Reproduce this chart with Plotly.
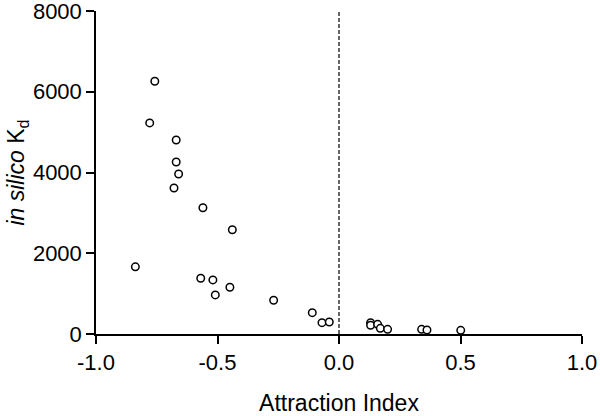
import plotly.graph_objects as go

attraction_index = [-0.758, -0.779, -0.670, -0.670, -0.660, -0.679, -0.560, -0.439,
                    -0.838, -0.569, -0.519, -0.449, -0.509, -0.269, -0.110, -0.070,
                    -0.040, 0.130, 0.130, 0.159, 0.170, 0.200, 0.340, 0.362, 0.501]
kd_in_silico = [6260, 5228, 4806, 4260, 3963, 3615, 3127, 2581,
                1663, 1382, 1340, 1158, 968, 836, 529, 281,
                298, 281, 216, 240, 141, 116, 116, 99, 91]

x_ticks = [-1.0, -0.5, 0.0, 0.5, 1.0]
x_tick_labels = ["-1.0", "-0.5", "0.0", "0.5", "1.0"]
y_ticks = [0, 2000, 4000, 6000, 8000]
y_tick_labels = ["0", "2000", "4000", "6000", "8000"]

fig = go.Figure()
fig.add_trace(go.Scatter(
    x=attraction_index, y=kd_in_silico, mode="markers",
    marker=dict(symbol="circle", size=7.5, color="white",
                line=dict(color="black", width=1.5)),
    showlegend=False, cliponaxis=False,
))
fig.add_vline(x=0, line=dict(color="black", width=1.2, dash="4px,2px"))

font_family = "Liberation Sans, Arial, sans-serif"
fig.update_layout(
    width=600, height=416,
    margin=dict(l=96, r=18, t=11, b=82, autoexpand=False),
    plot_bgcolor="white", paper_bgcolor="white",
    font=dict(family=font_family, color="black", size=22),
    xaxis=dict(
        range=[-1.0, 1.0], tickvals=x_ticks, ticktext=x_tick_labels,
        showline=True, linecolor="black", linewidth=1.5,
        ticks="outside", ticklen=8, tickwidth=1.5, tickcolor="black",
        showgrid=False, zeroline=False, automargin=False,
        ticklabeloverflow="allow",
        tickfont=dict(size=22),
        title=dict(text="Attraction Index", font=dict(size=23), standoff=22),
    ),
    yaxis=dict(
        range=[0, 8000], tickvals=y_ticks, ticktext=y_tick_labels,
        showline=True, linecolor="black", linewidth=1.5,
        ticks="outside", ticklen=8, tickwidth=1.5, tickcolor="black",
        showgrid=False, zeroline=False, automargin=False,
        ticklabeloverflow="allow",
        tickfont=dict(size=22),
        title=dict(text="<i>in silico</i> K<sub>d</sub>", font=dict(size=23), standoff=2),
    ),
)

fig.write_html("out.html", config={"displayModeBar": False},
               post_script="document.body.style.margin='0';")
